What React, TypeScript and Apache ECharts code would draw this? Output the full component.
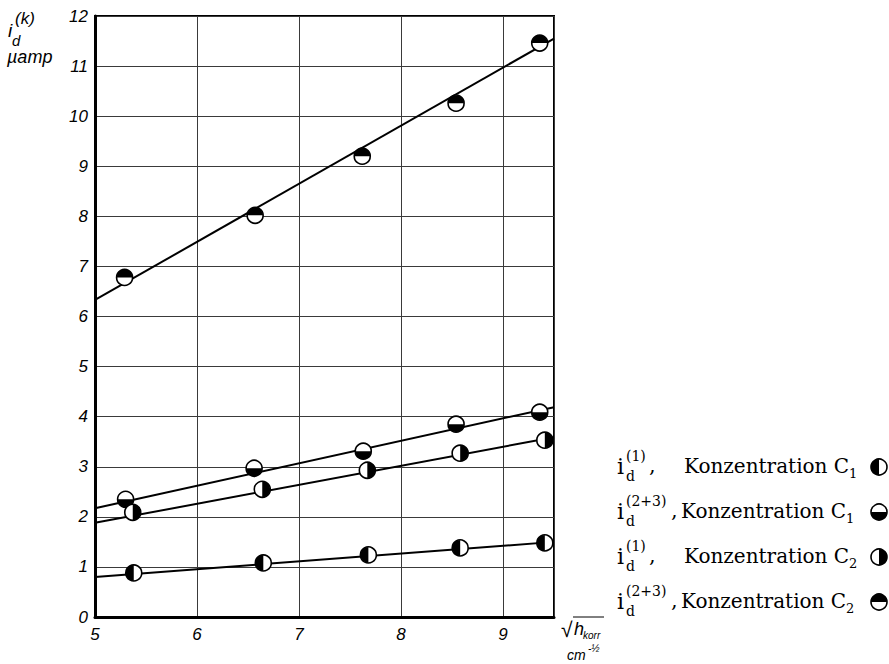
import React, { useEffect, useRef } from "react";
import * as echarts from "echarts";

// Measured points (x = sqrt(h_korr), y = i_d in µamp)
const pointsC2_23 = [[5.29, 6.78], [6.57, 8.02], [7.62, 9.2], [8.54, 10.26], [9.36, 11.46]];
const pointsC1_23 = [[5.3, 2.35], [6.56, 2.97], [7.63, 3.31], [8.54, 3.85], [9.36, 4.09]];
const pointsC2_1 = [[5.37, 2.09], [6.64, 2.55], [7.67, 2.93], [8.58, 3.27], [9.41, 3.53]];
const pointsC1_1 = [[5.38, 0.88], [6.65, 1.08], [7.68, 1.24], [8.58, 1.38], [9.41, 1.48]];

// Fitted straight lines (end points)
const lineC2_23 = [[5, 6.33], [9.5, 11.55]];
const lineC1_23 = [[5, 2.17], [9.5, 4.19]];
const lineC2_1 = [[5, 1.88], [9.5, 3.59]];
const lineC1_1 = [[5, 0.8], [9.5, 1.5]];

const xTickMin = 5;
const xTickMax = 9.5;
const yTickMin = 0;
const yTickMax = 12;

const PI = Math.PI;
// filled half of each marker: [startAngle, endAngle]
const HALF_LEFT: [number, number] = [PI / 2, (3 * PI) / 2];
const HALF_BOTTOM: [number, number] = [0, PI];
const HALF_RIGHT: [number, number] = [-PI / 2, PI / 2];
const HALF_TOP: [number, number] = [PI, 2 * PI];

const legendEntries = [
  { sup: "(1)", conc: "1", half: HALF_LEFT },
  { sup: "(2+3)", conc: "1", half: HALF_BOTTOM },
  { sup: "(1)", conc: "2", half: HALF_RIGHT },
  { sup: "(2+3)", conc: "2", half: HALF_TOP },
];

const R = 8;
const SERIF = "'DejaVu Serif', 'Liberation Serif', serif";
const SANS = "'Liberation Sans', 'DejaVu Sans', sans-serif";

function markerSeries(name: string, data: number[][], half: [number, number]) {
  return {
    type: "custom",
    name,
    z: 5,
    data,
    renderItem: (params: any, api: any) => {
      const p = api.coord([api.value(0), api.value(1)]);
      return {
        type: "group",
        children: [
          {
            type: "circle",
            shape: { cx: p[0], cy: p[1], r: R },
            style: { fill: "#fff", stroke: "#000", lineWidth: 1.6 },
          },
          {
            type: "sector",
            shape: { cx: p[0], cy: p[1], r0: 0, r: R, startAngle: half[0], endAngle: half[1], clockwise: true },
            style: { fill: "#000" },
          },
        ],
      };
    },
  };
}

function lineSeries(name: string, data: number[][]) {
  return {
    type: "line",
    name,
    data,
    showSymbol: false,
    symbol: "none",
    z: 3,
    lineStyle: { color: "#000", width: 2 },
  };
}

function legendGraphics() {
  const els: any[] = [];
  const baseY = 466;
  const step = 45;
  legendEntries.forEach((e, i) => {
    const cy = baseY + i * step;
    const long = e.sup.length > 3;
    els.push({ type: "text", x: 617, y: cy, style: { text: "i", font: `22px ${SERIF}`, fill: "#000", verticalAlign: "middle" } });
    els.push({ type: "text", x: 626, y: cy - 10, style: { text: e.sup, font: `14px ${SERIF}`, fill: "#000", verticalAlign: "middle" } });
    els.push({ type: "text", x: 626, y: cy + 10, style: { text: "d", font: `14px ${SERIF}`, fill: "#000", verticalAlign: "middle" } });
    els.push({ type: "text", x: long ? 671 : 649, y: cy - 1, style: { text: ",", font: `21px ${SERIF}`, fill: "#000", verticalAlign: "middle" } });
    els.push({ type: "text", x: long ? 681 : 684, y: cy, style: { text: "Konzentration C", font: `20px ${SERIF}`, fill: "#000", verticalAlign: "middle" } });
    els.push({ type: "text", x: long ? 846 : 849, y: cy + 7, style: { text: e.conc, font: `13px ${SERIF}`, fill: "#000", verticalAlign: "middle" } });
    els.push({ type: "circle", shape: { cx: 879, cy: cy + 1, r: R }, style: { fill: "#fff", stroke: "#000", lineWidth: 1.6 } });
    els.push({ type: "sector", shape: { cx: 879, cy: cy + 1, r0: 0, r: R, startAngle: e.half[0], endAngle: e.half[1], clockwise: true }, style: { fill: "#000" } });
  });
  return els;
}

function axisTitleGraphics() {
  const f = (s: number) => `italic ${s}px ${SANS}`;
  return [
    { type: "text", x: 8, y: 30, style: { text: "i", font: f(19), fill: "#000", verticalAlign: "middle" } },
    { type: "text", x: 15, y: 18, style: { text: "(k)", font: f(17), fill: "#000", verticalAlign: "middle" } },
    { type: "text", x: 12, y: 40, style: { text: "d", font: f(15), fill: "#000", verticalAlign: "middle" } },
    { type: "text", x: 7, y: 57, style: { text: "µamp", font: f(18), fill: "#000", verticalAlign: "middle" } },
    { type: "text", x: 561, y: 629, style: { text: "√", font: `italic 21px ${SANS}`, fill: "#000", verticalAlign: "middle" } },
    { type: "line", shape: { x1: 573, y1: 617, x2: 604, y2: 617 }, style: { stroke: "#000", lineWidth: 1 } },
    { type: "text", x: 574, y: 629, style: { text: "h", font: f(18), fill: "#000", verticalAlign: "middle" } },
    { type: "text", x: 583, y: 635, style: { text: "korr", font: f(10), fill: "#000", verticalAlign: "middle" } },
    { type: "text", x: 567, y: 655, style: { text: "cm", font: f(14), fill: "#000", verticalAlign: "middle" } },
    { type: "text", x: 588, y: 648, style: { text: "-½", font: f(10), fill: "#000", verticalAlign: "middle" } },
  ];
}

export default function App() {
  const ref = useRef<HTMLDivElement>(null);
  useEffect(() => {
    if (!ref.current) return;
    const chart = echarts.init(ref.current, undefined, { renderer: "svg" });
    chart.setOption({
      animation: false,
      backgroundColor: "#fff",
      grid: {
        left: 95,
        top: 16,
        right: 889 - 554,
        bottom: 664 - 617,
        show: true,
        borderColor: "#000",
        borderWidth: 2,
        containLabel: false,
      },
      xAxis: {
        type: "value",
        min: xTickMin,
        max: xTickMax,
        interval: 1,
        axisLine: { show: true, onZero: false, lineStyle: { color: "#000", width: 3 } },
        axisTick: { show: false },
        splitLine: { show: true, lineStyle: { color: "#3a3a3a", width: 1 } },
        axisLabel: {
          margin: 9,
          color: "#000",
          fontSize: 17,
          fontStyle: "italic",
          fontFamily: SANS,
          showMaxLabel: false,
        },
      },
      yAxis: {
        type: "value",
        min: yTickMin,
        max: yTickMax,
        interval: 1,
        axisLine: { show: true, onZero: false, lineStyle: { color: "#000", width: 3 } },
        axisTick: { show: false },
        splitLine: { show: true, lineStyle: { color: "#3a3a3a", width: 1 } },
        axisLabel: {
          margin: 7,
          color: "#000",
          fontSize: 17,
          fontStyle: "italic",
          fontFamily: SANS,
        },
      },
      graphic: [...axisTitleGraphics(), ...legendGraphics()],
      series: [
        lineSeries("fit C2 (2+3)", lineC2_23),
        lineSeries("fit C1 (2+3)", lineC1_23),
        lineSeries("fit C2 (1)", lineC2_1),
        lineSeries("fit C1 (1)", lineC1_1),
        markerSeries("i_d(2+3) C2", pointsC2_23, HALF_TOP),
        markerSeries("i_d(2+3) C1", pointsC1_23, HALF_BOTTOM),
        markerSeries("i_d(1) C2", pointsC2_1, HALF_RIGHT),
        markerSeries("i_d(1) C1", pointsC1_1, HALF_LEFT),
      ],
    });
    return () => chart.dispose();
  }, []);
  return (
    <div
      ref={ref}
      style={{ position: "fixed", left: 0, top: 0, width: 889, height: 664, background: "#fff" }}
    />
  );
}
